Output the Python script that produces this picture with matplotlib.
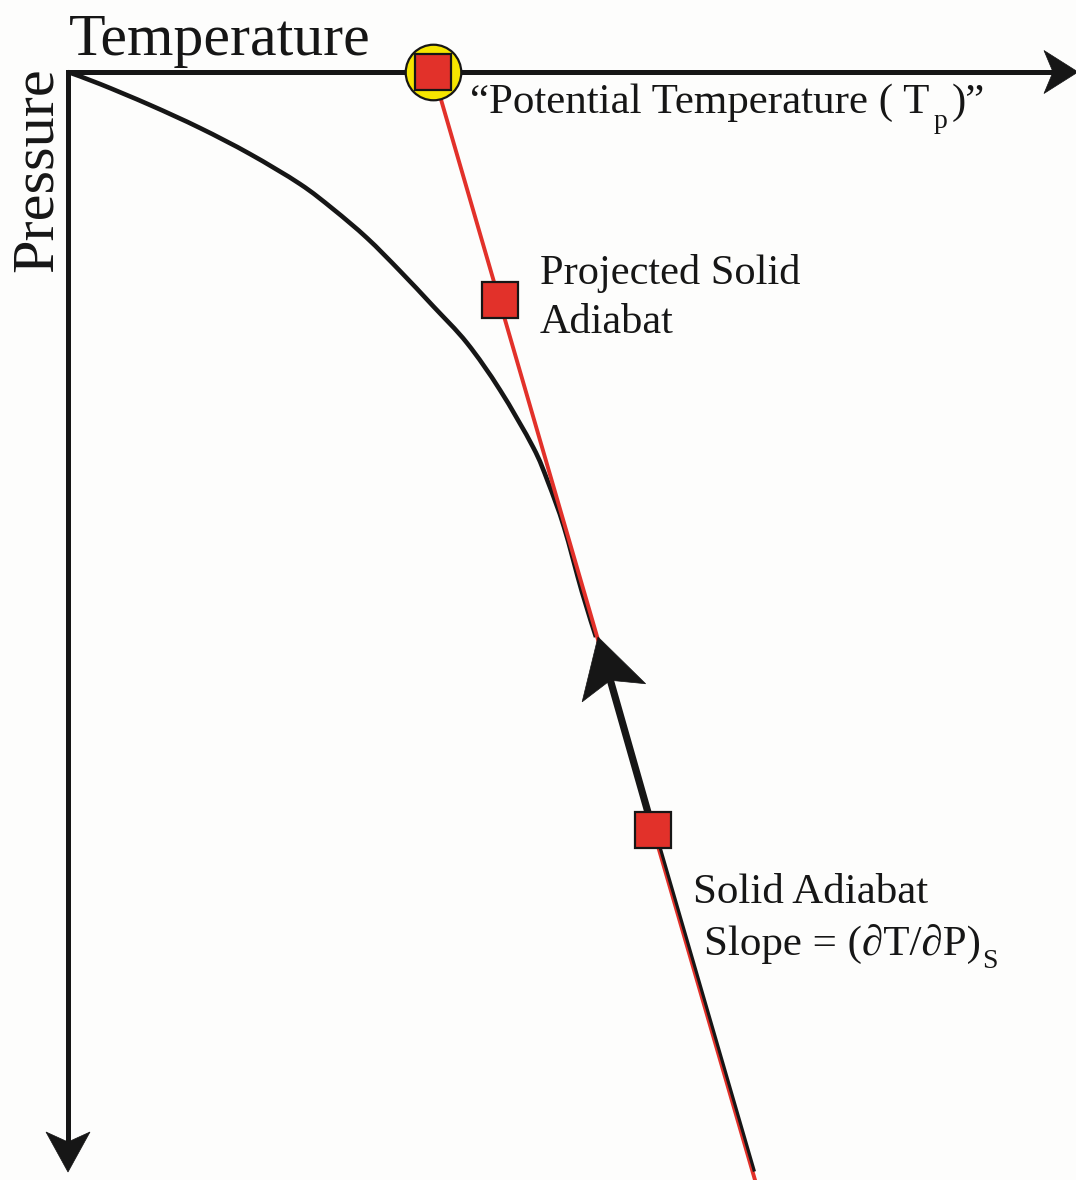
import matplotlib
matplotlib.use('Agg')
import numpy as np
import matplotlib.pyplot as plt
from matplotlib.patches import Polygon, PathPatch
from matplotlib.path import Path

plt.rcParams['font.family'] = ['Liberation Serif', 'DejaVu Serif']

INK = '#161616'
RED = '#e2312a'
YELLOW = '#f6e500'

# geotherm (arbitrary units, origin at the top-left corner, pressure grows downward)
geotherm_T = [0, 32, 82, 132, 182, 232, 265, 299, 332, 365, 399, 432, 465, 480, 496, 514, 528]
geotherm_P = [0, 12, 33, 56, 82, 112, 137, 166, 199, 234, 271, 318, 375, 410, 455, 520, 565]

# projected solid adiabat
adiabat_T = [365, 687]
adiabat_P = [0, 1108]

# solid adiabat below the arrow
lower_T = [587, 686]
lower_P = [758, 1098]

# Tp, projected point, point on the solid adiabat
marker_T = [365, 432, 585]
marker_P = [0, 228, 758]

T_MAX, P_MAX = 1010, 1100


def stealth_head(ax, tip, tail, length, half_width, notch, zorder=5):
    tip = np.asarray(tip, float)
    d = np.asarray(tail, float) - tip
    d /= np.hypot(*d)
    n = np.array([-d[1], d[0]])
    pts = [tip, tip + length * d + half_width * n, tip + notch * d,
           tip + length * d - half_width * n]
    ax.add_patch(Polygon(pts, closed=True, facecolor=INK, edgecolor=INK,
                         lw=0.5, zorder=zorder))
    return tip + notch * d


def smooth_path(xs, ys):
    # cubic bezier segments through every point (catmull-rom tangents)
    p = np.column_stack([xs, ys]).astype(float)
    ext = np.vstack([p[0], p, p[-1]])
    verts = [p[0]]
    codes = [Path.MOVETO]
    for i in range(len(p) - 1):
        a, b, c, d = ext[i], ext[i + 1], ext[i + 2], ext[i + 3]
        verts += [b + (c - a) / 6, c - (d - b) / 6, c]
        codes += [Path.CURVE4] * 3
    return Path(verts, codes)


def text_with_sub(ax, x, y, main, sub, tail, size, sub_size, drop, gap=2):
    r = ax.figure.canvas.get_renderer()
    t = ax.text(x, y, main, fontsize=size, color=INK, ha='left', va='baseline')
    x1 = x + t.get_window_extent(r).width + gap
    s = ax.text(x1, y + drop, sub, fontsize=sub_size, color=INK,
                ha='left', va='baseline')
    if tail:
        x2 = x1 + s.get_window_extent(r).width + gap
        ax.text(x2, y, tail, fontsize=size, color=INK, ha='left', va='baseline')


fig = plt.figure(figsize=(10.76, 11.8), dpi=100, facecolor='#fdfdfc')
ax = fig.add_axes([0, 0, 1, 1])
ax.set_xlim(-68, 1008)
ax.set_ylim(1108, -72)
ax.axis('off')

# axes with arrow heads
t_end = stealth_head(ax, (T_MAX, 0), (0, 0), 34, 21.5, 25)
p_end = stealth_head(ax, (0, P_MAX), (0, 0), 40, 22, 30)
ax.plot([t_end[0], 0, 0], [0, 0, p_end[1]], color=INK, lw=3.6,
        solid_joinstyle='miter', solid_capstyle='butt', zorder=4)

# geotherm and adiabat
ax.add_patch(PathPatch(smooth_path(geotherm_T, geotherm_P), facecolor='none',
                       edgecolor=INK, lw=3.3, capstyle='butt', zorder=2))
ax.plot(adiabat_T, adiabat_P, color=RED, lw=2.8, zorder=3)
ax.plot(lower_T, lower_P, color=INK, lw=2.3, zorder=3)

# upward arrow along the solid adiabat
tip = (geotherm_T[-1] + 2, geotherm_P[-1])
notch = stealth_head(ax, tip, (marker_T[2], marker_P[2]), 58, 33, 45)
ax.plot([notch[0], marker_T[2]], [notch[1], marker_P[2]], color=INK, lw=5.2,
        solid_capstyle='butt', zorder=4)

# markers
ax.plot(marker_T[0], marker_P[0], 'o', ms=40, mfc=YELLOW, mec=INK, mew=1.6, zorder=6)
ax.plot(marker_T, marker_P, 's', ms=26, mfc=RED, mec=INK, mew=1.6, zorder=7)

# labels
ax.text(1, -17, 'Temperature', fontsize=43, color=INK, ha='left', va='baseline')
ax.text(-16, 200, 'Pressure', fontsize=43.5, color=INK, rotation=90,
        rotation_mode='anchor', ha='left', va='baseline')
text_with_sub(ax, 402, 41, '\u201cPotential Temperature ( T', 'p', ')\u201d',
              31, 20, 15, gap=4)
ax.text(472, 212, 'Projected Solid', fontsize=30.5, color=INK, ha='left', va='baseline')
ax.text(472, 261, 'Adiabat', fontsize=30.5, color=INK, ha='left', va='baseline')
ax.text(625, 831, 'Solid Adiabat', fontsize=31, color=INK, ha='left', va='baseline')
text_with_sub(ax, 636, 883, 'Slope = (\u2202T/\u2202P)', 'S', None, 31, 20, 13, gap=1)

fig.savefig('out.png', dpi=100, facecolor=fig.get_facecolor())
